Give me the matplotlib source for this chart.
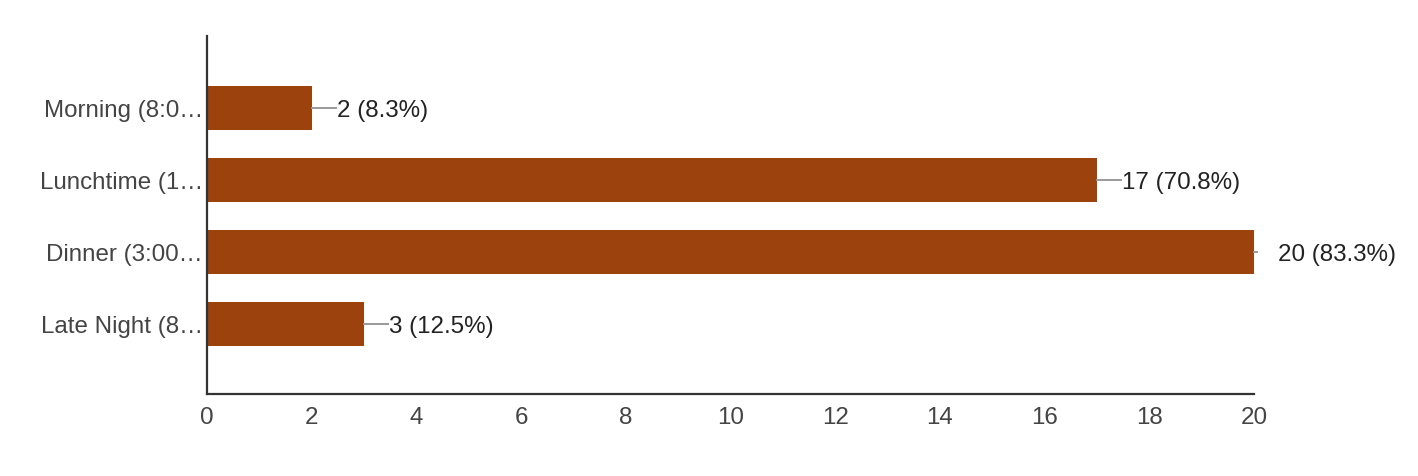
import matplotlib
matplotlib.use("Agg")
import matplotlib.pyplot as plt
from matplotlib.transforms import offset_copy

categories = ["Morning (8:0\u2026", "Lunchtime (1\u2026", "Dinner (3:00\u2026", "Late Night (8\u2026"]
counts = [2, 17, 20, 3]
labels = ["2 (8.3%)", "17 (70.8%)", "20 (83.3%)", "3 (12.5%)"]
xticks = [0, 2, 4, 6, 8, 10, 12, 14, 16, 18, 20]

plt.rcParams['font.family'] = ['Liberation Sans', 'DejaVu Sans']
FS = 17.4
px = 72 / 100  # points per pixel at dpi 100

fig = plt.figure(figsize=(14.18, 4.76), dpi=100)
ax = fig.add_axes([207 / 1418, 1 - 394 / 476, (1254 - 207) / 1418, 358 / 476])

y = list(range(len(categories)))
ax.barh(y, counts, height=0.61, color="#9c420c", zorder=2)
ax.set_xlim(0, 20)
ax.set_ylim(3.97, -1)
ax.set_yticks(y)
ax.set_yticklabels(categories)
ax.set_xticks(xticks)
ax.tick_params(axis='both', length=0, labelsize=FS, colors="#444444")
ax.tick_params(axis='x', pad=9)
ax.tick_params(axis='y', pad=3)
for s in ["top", "right"]:
    ax.spines[s].set_visible(False)
for s in ["left", "bottom"]:
    ax.spines[s].set_color("#333333")
    ax.spines[s].set_linewidth(1.6)

for i, (c, lab) in enumerate(zip(counts, labels)):
    if c >= 20:
        line_len, text_off = 3, 24
    else:
        line_len, text_off = 24, 25
    x0, y0 = ax.transData.transform((c, i))
    x1 = x0 + line_len
    ax.plot([x0, x1], [y0, y0], transform=None, color="#999999", lw=1.4, zorder=3, clip_on=False)
    t_text = offset_copy(ax.transData, fig=fig, x=text_off * px, y=0, units='points')
    ax.text(c, i, lab, transform=t_text, ha='left', va='center_baseline', fontsize=FS,
            color="#222222", clip_on=False)

fig.savefig("out.png", dpi=100)
